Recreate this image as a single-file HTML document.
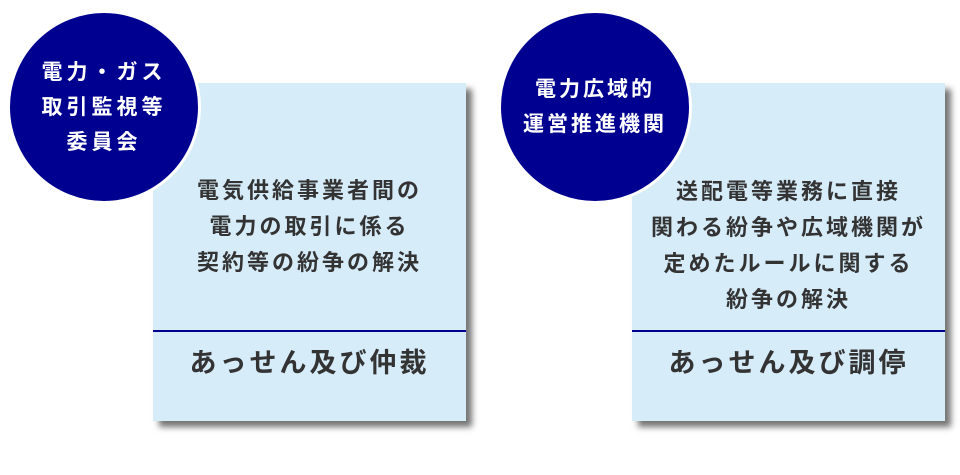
<!DOCTYPE html>
<html><head><meta charset="utf-8"><style>
body{margin:0;width:960px;height:475px;background:#fff;position:relative;overflow:hidden;font-family:"Liberation Sans","Noto Sans CJK JP",sans-serif;font-weight:bold}
.box{position:absolute;top:83px;width:313px;height:338px;background:#d6ecf9;box-shadow:6px 6px 6px rgba(0,0,0,.55)}
.div{position:absolute;left:0;right:0;top:247px;height:2px;background:#000090}
.t{position:absolute;left:0;right:0;text-align:center;color:#333;font-size:22px;letter-spacing:3px;line-height:36px}
.b{position:absolute;left:0;right:0;top:262px;text-align:center;color:#333;font-size:27px;letter-spacing:3px;line-height:36px}
.c{position:absolute;width:188px;height:188px;border-radius:50%;background:#000090;border:3px solid #fff;box-sizing:content-box;color:#fff;text-align:center;font-size:21px;letter-spacing:4px;line-height:35px;display:flex;align-items:center;justify-content:center}
</style></head><body>
<div class="box" style="left:153px"><div class="t" style="top:90px">電気供給事業者間の<br>電力の取引に係る<br>契約等の紛争の解決</div><div class="div"></div><div class="b">あっせん及び仲裁</div></div>
<div class="box" style="left:632px"><div class="t" style="top:91px">送配電等業務に直接<br>関わる紛争や広域機関が<br>定めたルールに関する<br>紛争の解決</div><div class="div"></div><div class="b">あっせん及び調停</div></div>
<div class="c" style="left:7px;top:10px"><div>電力・ガス<br>取引監視等<br>委員会</div></div>
<div class="c" style="left:498px;top:10px;letter-spacing:3px"><div>電力広域的<br>運営推進機関</div></div>
</body></html>
